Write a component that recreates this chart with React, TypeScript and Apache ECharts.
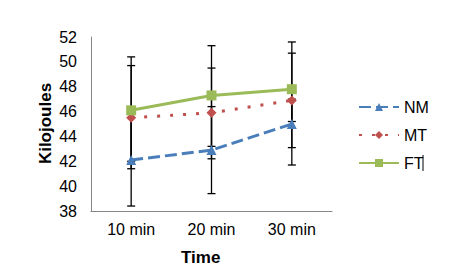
import React, { useEffect, useRef } from "react";
import * as echarts from "echarts";

const categories = ["10 min", "20 min", "30 min"];
const seriesNames = ["NM", "MT", "FT"];
const nm = [42.1, 42.9, 45.0];
const mt = [45.5, 45.9, 46.9];
const ft = [46.1, 47.3, 47.8];
const nmLow = [38.4, 39.4, 41.7];
const nmHigh = [45.8, 46.4, 47.0];
const mtLow = [41.4, 42.2, 43.1];
const mtHigh = [49.7, 49.5, 50.7];
const ftLow = [42.0, 43.2, 45.2];
const ftHigh = [50.4, 51.3, 51.6];
const yMin = 38;
const yMax = 52;
const yStep = 2;

const FONT = "'Liberation Sans', Arial, sans-serif";

export default function App() {
  const ref = useRef<HTMLDivElement>(null);
  useEffect(() => {
    if (!ref.current) return;
    const chart = echarts.init(ref.current, undefined, { renderer: "svg" });
    const errData: number[][] = [];
    const lows = [nmLow, mtLow, ftLow];
    const highs = [nmHigh, mtHigh, ftHigh];
    lows.forEach((lo, s) => {
      lo.forEach((v, i) => errData.push([i, v, highs[s][i]]));
    });
    const axisColor = "#868686";
    chart.setOption({
      animation: false,
      textStyle: { fontFamily: FONT },
      grid: { left: 91, right: 122, top: 37, bottom: 58, containLabel: false },
      xAxis: {
        type: "category",
        data: categories,
        boundaryGap: true,
        axisLine: { lineStyle: { color: axisColor, width: 1 } },
        axisTick: { show: false },
        axisLabel: { fontSize: 16, color: "#000", margin: 10, fontFamily: FONT },
      },
      yAxis: {
        type: "value",
        min: yMin,
        max: yMax,
        interval: yStep,
        splitLine: { show: false },
        axisLine: { show: true, lineStyle: { color: axisColor, width: 1 } },
        axisTick: { show: false },
        axisLabel: { fontSize: 16, color: "#000", margin: 14, fontFamily: FONT },
      },
      legend: {
        data: seriesNames,
        orient: "vertical",
        left: 358,
        top: 99,
        padding: 0,
        itemWidth: 40,
        itemHeight: 10,
        itemGap: 12,
        textStyle: { fontSize: 16, color: "#000", fontFamily: FONT },
      },
      graphic: [
        {
          type: "text",
          x: 45.5,
          y: 123.5,
          rotation: Math.PI / 2,
          style: {
            text: "Kilojoules",
            font: `bold 17px ${FONT}`,
            fill: "#000",
            align: "center",
            verticalAlign: "middle",
          },
        },
        {
          type: "text",
          x: 200.7,
          y: 257.5,
          style: {
            text: "Time",
            font: `bold 17px ${FONT}`,
            fill: "#000",
            align: "center",
            verticalAlign: "middle",
          },
        },
        {
          type: "line",
          shape: { x1: 423, y1: 155, x2: 423, y2: 171 },
          style: { stroke: "#000", lineWidth: 1 },
        },
      ],
      series: [
        {
          type: "custom",
          name: "err",
          z: 1,
          data: errData,
          renderItem: (_p: any, api: any) => {
            const x = api.value(0);
            const lo = api.coord([x, api.value(1)]);
            const hi = api.coord([x, api.value(2)]);
            const w = 4;
            const st = { stroke: "#000", lineWidth: 1.3 };
            return {
              type: "group",
              children: [
                { type: "line", shape: { x1: lo[0], y1: lo[1], x2: hi[0], y2: hi[1] }, style: st },
                { type: "line", shape: { x1: lo[0] - w, y1: lo[1], x2: lo[0] + w, y2: lo[1] }, style: st },
                { type: "line", shape: { x1: hi[0] - w, y1: hi[1], x2: hi[0] + w, y2: hi[1] }, style: st },
              ],
            };
          },
        },
        {
          type: "line",
          name: "NM",
          z: 3,
          data: nm,
          symbol: "triangle",
          symbolSize: 10,
          itemStyle: { color: "#4A7EBB" },
          lineStyle: { color: "#4A7EBB", width: 3, type: [12, 5] },
        },
        {
          type: "line",
          name: "MT",
          z: 3,
          data: mt,
          symbol: "diamond",
          symbolSize: 10,
          itemStyle: { color: "#C0504D" },
          lineStyle: { color: "#C0504D", width: 3, type: [3, 10] },
        },
        {
          type: "line",
          name: "FT",
          z: 3,
          data: ft,
          symbol: "rect",
          symbolSize: 10,
          itemStyle: { color: "#9BBB59" },
          lineStyle: { color: "#9BBB59", width: 3 },
        },
      ],
    });
    return () => chart.dispose();
  }, []);
  return (
    <div
      ref={ref}
      style={{ position: "absolute", left: 0, top: 0, width: 454, height: 269, background: "#fff" }}
    />
  );
}
